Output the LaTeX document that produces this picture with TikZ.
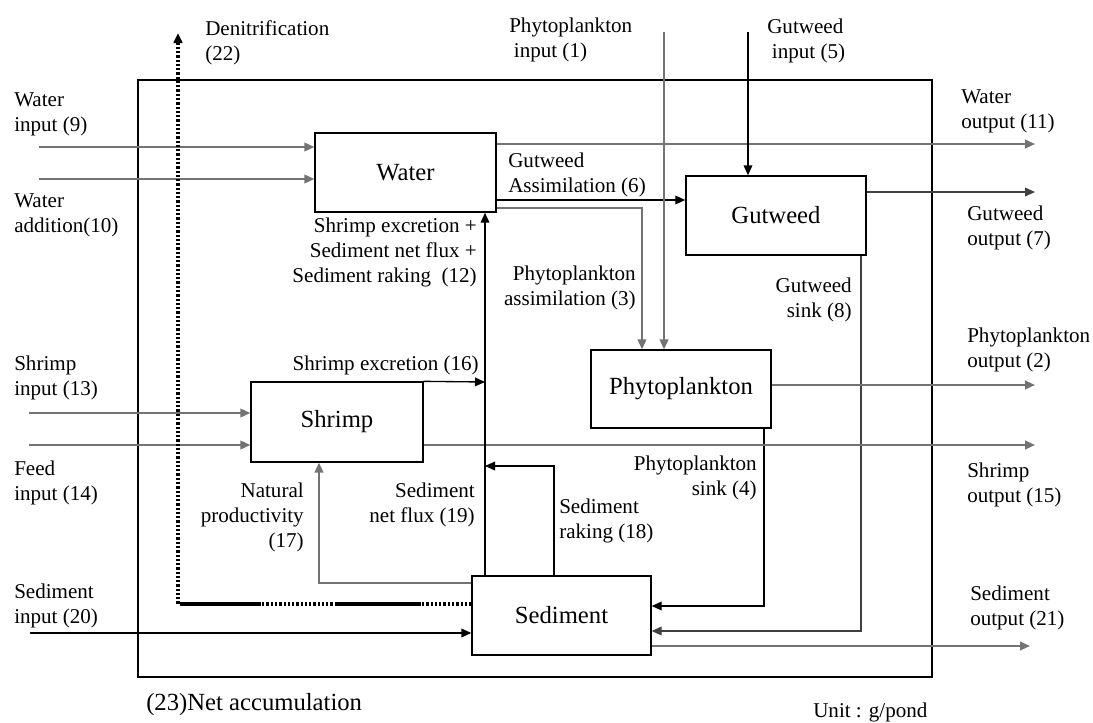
\documentclass[tikz,border=0pt]{standalone}
\usepackage{fontspec}
\setmainfont{Liberation Serif}
\usetikzlibrary{arrows.meta}

% multi-line labels whose reference point is the baseline of the first line
\newcommand\lblL[1]{\begin{tabular}[t]{@{}l@{}}#1\end{tabular}}
\newcommand\lblR[1]{\begin{tabular}[t]{@{}r@{}}#1\end{tabular}}

\tikzset{
  pool/.style={draw, line width=1pt, inner sep=0pt,
    font=\fontsize{18.5}{22}\selectfont},
  lab/.style={inner sep=0pt, font=\fontsize{15.8}{19}\selectfont},
  arr/.style={-{Triangle[length=7.5pt,width=6.5pt]}},
  bline/.style={line width=1pt, draw=black},
  gline/.style={line width=1.5pt, draw=black!55},
  mline/.style={line width=1.1pt, draw=black!75},
  dotline/.style={line width=2.3pt, dash pattern=on 1.7pt off 1.5pt},
  solidseg/.style={line width=2.4pt},
}

\begin{document}
\begin{tikzpicture}[x=0.75pt,y=-0.75pt]
\useasboundingbox (0,0) rectangle (1093,722);

% pond boundary
\node[draw, line width=1pt, inner sep=0pt,
      minimum width=794*0.75pt, minimum height=597*0.75pt] (pond) at (535,378.5) {};

% compartments
\node[pool, minimum width=181*0.75pt, minimum height=79*0.75pt] (water)    at (405.5,172.5) {Water};
\node[pool, minimum width=180*0.75pt, minimum height=79*0.75pt] (gutweed)  at (776,215.5)   {Gutweed};
\node[pool, minimum width=180*0.75pt, minimum height=78*0.75pt] (phyto)    at (681,389)     {Phytoplankton};
\node[pool, minimum width=172*0.75pt, minimum height=80*0.75pt] (shrimp)   at (337,422)     {Shrimp};
\node[pool, minimum width=179*0.75pt, minimum height=79*0.75pt] (sediment) at (561.5,615.5) {Sediment};

% free ends and bends
\coordinate (w9)  at (39,147);
\coordinate (w10) at (39,179);
\coordinate (w11) at (1035,144);
\coordinate (g6)  at (0,200);
\coordinate (pa)  at (642,208);
\coordinate (p1)  at (664,32);
\coordinate (g5)  at (748,32);
\coordinate (g7)  at (1035,192);
\coordinate (gs)  at (861,631);
\coordinate (p2)  at (1035,385);
\coordinate (ps)  at (764,606);
\coordinate (s13) at (29,413);
\coordinate (s14) at (29,445);
\coordinate (s15) at (1035,445);
\coordinate (se)  at (485,382);
\coordinate (v12) at (485,0);
\coordinate (rk)  at (554,466);
\coordinate (rk2) at (485,466);
\coordinate (np)  at (319,583);
\coordinate (d20) at (30,633);
\coordinate (d21) at (1030,646);
\coordinate (dn)  at (0,604);
\coordinate (dA)  at (420,604);
\coordinate (dB)  at (337,604);
\coordinate (dC)  at (260,604);
\coordinate (dD)  at (182,604);
\coordinate (dE)  at (178,604);
\coordinate (dTop) at (178,33);

% water flows
\draw[gline,arr] (w9)  -- (w9 -| water.west);
\draw[gline,arr] (w10) -- (w10 -| water.west);
\draw[gline,arr] (w11 -| water.east) -- (w11);
\draw[bline,arr] (g6 -| water.east) -- (g6 -| gutweed.west);
\draw[gline,arr] (pa -| water.east) -- (pa) -- (pa |- phyto.north);

% gutweed flows
\draw[bline,arr] (g5) -- (g5 |- gutweed.north);
\draw[mline,arr] (g7 -| gutweed.east) -- (g7);
\draw[mline,arr] (gs |- gutweed.south) -- (gs) -- (gs -| sediment.east);

% phytoplankton flows
\draw[gline,arr] (p1) -- (p1 |- phyto.north);
\draw[gline,arr] (p2 -| phyto.east) -- (p2);
\draw[bline,arr] (ps |- phyto.south) -- (ps) -- (ps -| sediment.east);

% shrimp flows
\draw[gline,arr] (s13) -- (s13 -| shrimp.west);
\draw[gline,arr] (s14) -- (s14 -| shrimp.west);
\draw[gline,arr] (s15 -| shrimp.east) -- (s15);
\draw[bline,arr] (shrimp.north east) -- (se);

% sediment flows
\draw[bline,arr] (v12 |- sediment.north) -- (v12 |- water.south);
\draw[bline,arr] (rk |- sediment.north) -- (rk) -- (rk2);
\draw[gline,arr] (np -| sediment.west) -- (np) -- (np |- shrimp.south);
\draw[bline,arr] (d20) -- (d20 -| sediment.west);
\draw[gline,arr] (d21 -| sediment.east) -- (d21);

% denitrification
\draw[dotline] (dn -| sediment.west) -- (dA);
\draw[solidseg] (dA) -- (dB);
\draw[dotline] (dB) -- (dC);
\draw[solidseg] (dC) -- (dD);
\draw[dotline,arr] (dD) -- (dE) -- (dTop);

% labels
\node[lab, anchor=base west] (t22) at (205,35)  {\lblL{Denitrification\\(22)}};
\node[lab, anchor=base west] (t1)  at (509,32)  {\lblL{Phytoplankton\\\hspace*{3.5pt}input (1)}};
\node[lab, anchor=base west] (t5)  at (767,33)  {\lblL{Gutweed\\\hspace*{3.5pt}input (5)}};
\node[lab, anchor=base west] (t9)  at (14,106)  {\lblL{Water\\input (9)}};
\node[lab, anchor=base west] (t10) at (14,207)  {\lblL{Water\\addition(10)}};
\node[lab, anchor=base west] (t11) at (961,103) {\lblL{Water\\output (11)}};
\node[lab, anchor=base west] (t6)  at (508,167) {\lblL{Gutweed\\Assimilation (6)}};
\node[lab, anchor=base west] (t7)  at (967,220) {\lblL{Gutweed\\output (7)}};
\node[lab, anchor=base east] (t12) at (477,232) {\lblR{Shrimp excretion +\\Sediment net flux +\\Sediment raking\ \ (12)}};
\node[lab, anchor=base east] (t3)  at (636,280) {\lblR{Phytoplankton\\assimilation (3)}};
\node[lab, anchor=base east] (t8)  at (852,292) {\lblR{Gutweed\\sink (8)}};
\node[lab, anchor=base west] (t2)  at (967,342) {\lblL{Phytoplankton\\output (2)}};
\node[lab, anchor=base west] (t13) at (14,370)  {\lblL{Shrimp\\input (13)}};
\node[lab, anchor=base east] (t16) at (479,370) {Shrimp excretion (16)};
\node[lab, anchor=base west] (t14) at (14,475)  {\lblL{Feed\\input (14)}};
\node[lab, anchor=base east] (t4)  at (757,470) {\lblR{Phytoplankton\\sink (4)}};
\node[lab, anchor=base west] (t15) at (967,477) {\lblL{Shrimp\\output (15)}};
\node[lab, anchor=base east] (t17) at (304,497) {\lblR{Natural\\productivity\\(17)}};
\node[lab, anchor=base east] (t19) at (475,497) {\lblR{Sediment\\net flux (19)}};
\node[lab, anchor=base west] (t18) at (559,513) {\lblL{Sediment\\raking (18)}};
\node[lab, anchor=base west] (t20) at (14,598)  {\lblL{Sediment\\input (20)}};
\node[lab, anchor=base west] (t21) at (970,600) {\lblL{Sediment\\output (21)}};
\node[inner sep=0pt, font=\fontsize{18.5}{22}\selectfont, anchor=base west] (t23) at (146,710) {(23)Net accumulation};
\node[lab, anchor=base west] (unit) at (813,717) {Unit : g/pond};
\end{tikzpicture}
\end{document}
